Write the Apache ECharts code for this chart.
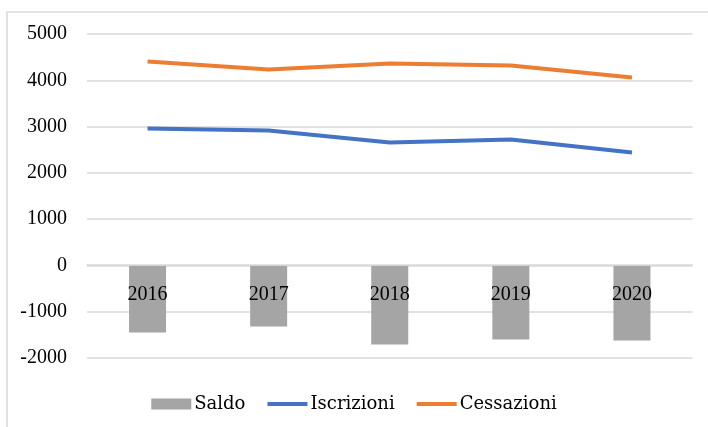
<!DOCTYPE html>
<html>
<head>
<meta charset="utf-8">
<script src="https://cdn.jsdelivr.net/npm/echarts@6/dist/echarts.min.js"></script>
<style>
  html, body { margin: 0; padding: 0; background: #fff; }
  #chart { width: 708px; height: 427px; }
</style>
</head>
<body>
<div id="chart"></div>
<script>
// dati
var anni = ['2016', '2017', '2018', '2019', '2020']
var saldo = [-1447, -1317, -1706, -1599, -1620]
var iscrizioni = [2959, 2916, 2657, 2721, 2440]
var cessazioni = [4406, 4233, 4363, 4320, 4060]

var font = 'Liberation Serif'
var lineIcon = 'path://M0,0 H40 V4 H0 Z'

var chart = echarts.init(document.getElementById('chart'))
chart.setOption({
    backgroundColor: '#fff',
    animation: false,
    graphic: [{
        type: 'rect',
        shape: { x: 7, y: 12, width: 720, height: 430 },
        style: { fill: 'none', stroke: '#d9d9d9', lineWidth: 1.5 },
        silent: true
    }],
    grid: { left: 87, right: 15.5, top: 34, bottom: 69 },
    legend: {
        bottom: 9,
        left: 'center',
        itemGap: 22,
        itemWidth: 40,
        itemHeight: 11,
        textStyle: { fontFamily: 'DejaVu Serif', fontSize: 18, color: '#000', padding: [0, 0, 0, -2] },
        data: [
            { name: 'Saldo', icon: 'rect' },
            { name: 'Iscrizioni', icon: lineIcon },
            { name: 'Cessazioni', icon: lineIcon }
        ]
    },
    xAxis: {
        type: 'category',
        data: anni,
        position: 'bottom',
        offset: -93,
        axisLine: { onZero: false, lineStyle: { color: '#d9d9d9', width: 1.5 } },
        axisTick: { show: false },
        axisLabel: { margin: 20, fontFamily: font, fontSize: 20, color: '#000' },
        z: 5
    },
    yAxis: {
        type: 'value',
        min: -2000,
        max: 5000,
        interval: 1000,
        axisLine: { show: false },
        axisTick: { show: false },
        axisLabel: {
            margin: 20, fontFamily: font, fontSize: 20, color: '#000',
            formatter: function (v) { return String(v) }
        },
        splitLine: { lineStyle: { color: '#d9d9d9', width: 1.5 } }
    },
    series: [
        {
            name: 'Saldo',
            type: 'bar',
            data: saldo,
            barWidth: 37,
            itemStyle: { color: '#a5a5a5' },
            z: 1
        },
        {
            name: 'Iscrizioni',
            type: 'line',
            data: iscrizioni,
            symbol: 'none',
            lineStyle: { color: '#4472c4', width: 4 },
            itemStyle: { color: '#4472c4' }
        },
        {
            name: 'Cessazioni',
            type: 'line',
            data: cessazioni,
            symbol: 'none',
            lineStyle: { color: '#ed7d31', width: 4 },
            itemStyle: { color: '#ed7d31' }
        }
    ]
})
</script>
</body>
</html>
